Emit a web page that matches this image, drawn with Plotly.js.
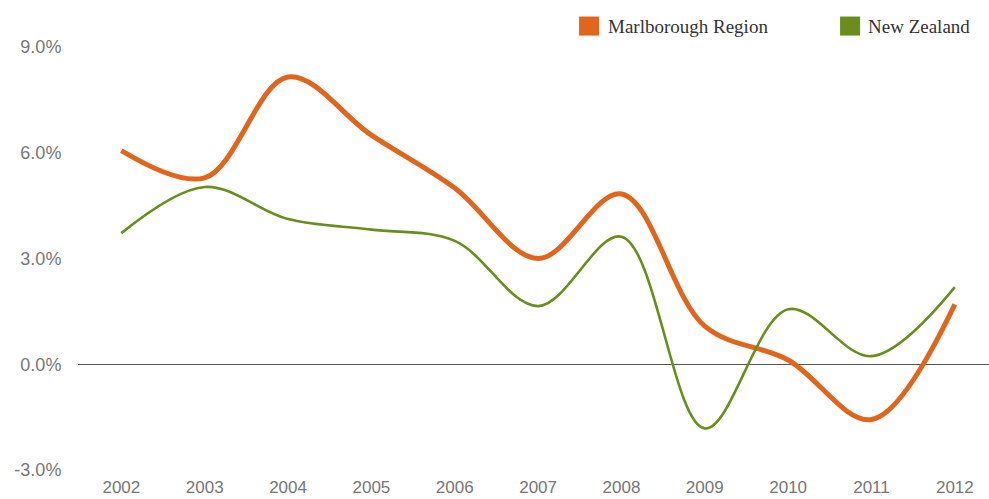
<!DOCTYPE html>
<html>
<head>
<meta charset="utf-8">
<script src="https://cdn.plot.ly/plotly-3.0.1.min.js"></script>
<style>
  html, body { margin: 0; padding: 0; background: #fff; }
  #chart { width: 989px; height: 499px; }
</style>
</head>
<body>
<div id="chart"></div>
<script>
// Annual growth, percent
const years = [2002, 2003, 2004, 2005, 2006, 2007, 2008, 2009, 2010, 2011, 2012];
const marlborough = [6.06, 5.29, 8.15, 6.5, 5.0, 3.0, 4.83, 1.08, 0.12, -1.57, 1.7];
const newZealand = [3.72, 5.03, 4.12, 3.82, 3.5, 1.65, 3.62, -1.82, 1.56, 0.23, 2.19];
const seriesNames = ['Marlborough Region', 'New Zealand'];
const yTicks = [-3, 0, 3, 6, 9];
const yTickText = ['-3.0%', '0.0%', '3.0%', '6.0%', '9.0%'];

const orange = '#E2651C';
const green = '#6A8E1C';

const traces = [
  {
    x: years, y: marlborough, name: seriesNames[0], type: 'scatter', mode: 'lines',
    line: { color: orange, width: 5, shape: 'spline', smoothing: 1 },
    showlegend: false, hoverinfo: 'x+y'
  },
  {
    x: years, y: newZealand, name: seriesNames[1], type: 'scatter', mode: 'lines',
    line: { color: green, width: 2.6, shape: 'spline', smoothing: 1 },
    showlegend: false, hoverinfo: 'x+y'
  }
];

// Legend drawn as swatches plus serif labels across the top right
const legendFont = { family: 'Liberation Serif, Times New Roman, serif', size: 19, color: '#333' };
const legendShapes = [
  { type: 'rect', xref: 'paper', yref: 'paper', x0: 0.5500, x1: 0.5720, y0: 1.027, y1: 1.072,
    fillcolor: orange, line: { width: 0 } },
  { type: 'rect', xref: 'paper', yref: 'paper', x0: 0.8365, x1: 0.8585, y0: 1.027, y1: 1.072,
    fillcolor: green, line: { width: 0 } }
];
const legendNotes = [
  { text: seriesNames[0], xref: 'paper', yref: 'paper', x: 0.5795, y: 1.0496, xanchor: 'left', yanchor: 'middle',
    showarrow: false, font: legendFont },
  { text: seriesNames[1], xref: 'paper', yref: 'paper', x: 0.8650, y: 1.0496, xanchor: 'left', yanchor: 'middle',
    showarrow: false, font: legendFont }
];

const layout = {
  width: 989, height: 499,
  margin: { l: 78, r: 0, t: 47, b: 29 },
  paper_bgcolor: '#fff', plot_bgcolor: '#fff',
  font: { family: 'Liberation Sans, Arial, sans-serif', size: 18, color: '#777' },
  xaxis: {
    range: [2001.48, 2012.41],
    tickmode: 'array', tickvals: years, ticktext: years.map(String),
    showgrid: false, zeroline: false, showline: false,
    ticks: 'outside', ticklen: 2, tickcolor: 'rgba(0,0,0,0)',
    tickfont: { size: 17, color: '#777' }
  },
  yaxis: {
    range: [-3, 9],
    tickmode: 'array', tickvals: yTicks, ticktext: yTickText,
    showgrid: false, zeroline: true, zerolinecolor: '#555', zerolinewidth: 1,
    showline: false,
    ticks: 'outside', ticklen: 12, tickcolor: 'rgba(0,0,0,0)',
    tickfont: { size: 18, color: '#777' }
  },
  shapes: legendShapes,
  annotations: legendNotes,
  showlegend: false
};

Plotly.newPlot('chart', traces, layout, { displayModeBar: false, staticPlot: true });
</script>
</body>
</html>
